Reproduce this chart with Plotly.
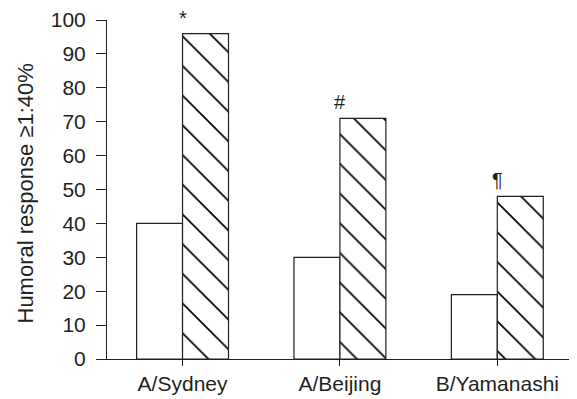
import plotly.graph_objects as go

categories = ["A/Sydney", "A/Beijing", "B/Yamanashi"]
group_a = [40, 30, 19]
group_b = [96, 71, 48]
markers = ["*", "#", "¶"]
y_ticks = [0, 10, 20, 30, 40, 50, 60, 70, 80, 90, 100]

INK = "#231f20"
FONT = "Liberation Sans, Arial, sans-serif"

fig = go.Figure()
fig.add_trace(go.Bar(
    x=categories, y=group_a, name="before",
    marker=dict(color="white", line=dict(color=INK, width=1.2)),
))
fig.add_trace(go.Bar(
    x=categories, y=group_b, name="after",
    marker=dict(color="white", line=dict(color=INK, width=1.2),
                pattern=dict(shape="\\", fgcolor="black", bgcolor="white",
                             fgopacity=1, size=21, solidity=0.08,
                             fillmode="overlay")),
))

for c, v, m in zip(categories, group_b, markers):
    fig.add_annotation(x=c, y=v, text=m, showarrow=False, xref="x", yref="y",
                       yanchor="bottom", yshift=3,
                       font=dict(family=FONT, size=20, color=INK))

fig.add_annotation(text="Humoral response ≥1:40%", textangle=-90,
                   xref="paper", yref="paper", x=0, y=0.5, xshift=-82, yshift=-4,
                   xanchor="center", yanchor="middle", showarrow=False,
                   font=dict(family=FONT, size=22, color=INK))

fig.update_layout(
    width=569, height=391,
    margin=dict(l=99, r=1, t=12, b=40),
    paper_bgcolor="white", plot_bgcolor="white",
    barmode="group", bargap=0.416, bargroupgap=0,
    showlegend=False,
    font=dict(family=FONT, size=21, color=INK),
)
fig.update_xaxes(
    type="category", range=[-0.48, 2.5],
    showline=True, linecolor=INK, linewidth=1,
    ticks="outside", ticklen=6, tickcolor=INK, tickwidth=1,
    showgrid=False, zeroline=False,
    tickfont=dict(family=FONT, size=21, color=INK),
)
fig.update_yaxes(
    range=[0, 100], tickvals=y_ticks,
    showline=True, linecolor=INK, linewidth=1,
    ticks="outside", ticklen=10, tickcolor=INK, tickwidth=1,
    showgrid=False, zeroline=False,
    tickfont=dict(family=FONT, size=21, color=INK),
    ticklabelstandoff=6,
)

fig.write_html("out.html")
